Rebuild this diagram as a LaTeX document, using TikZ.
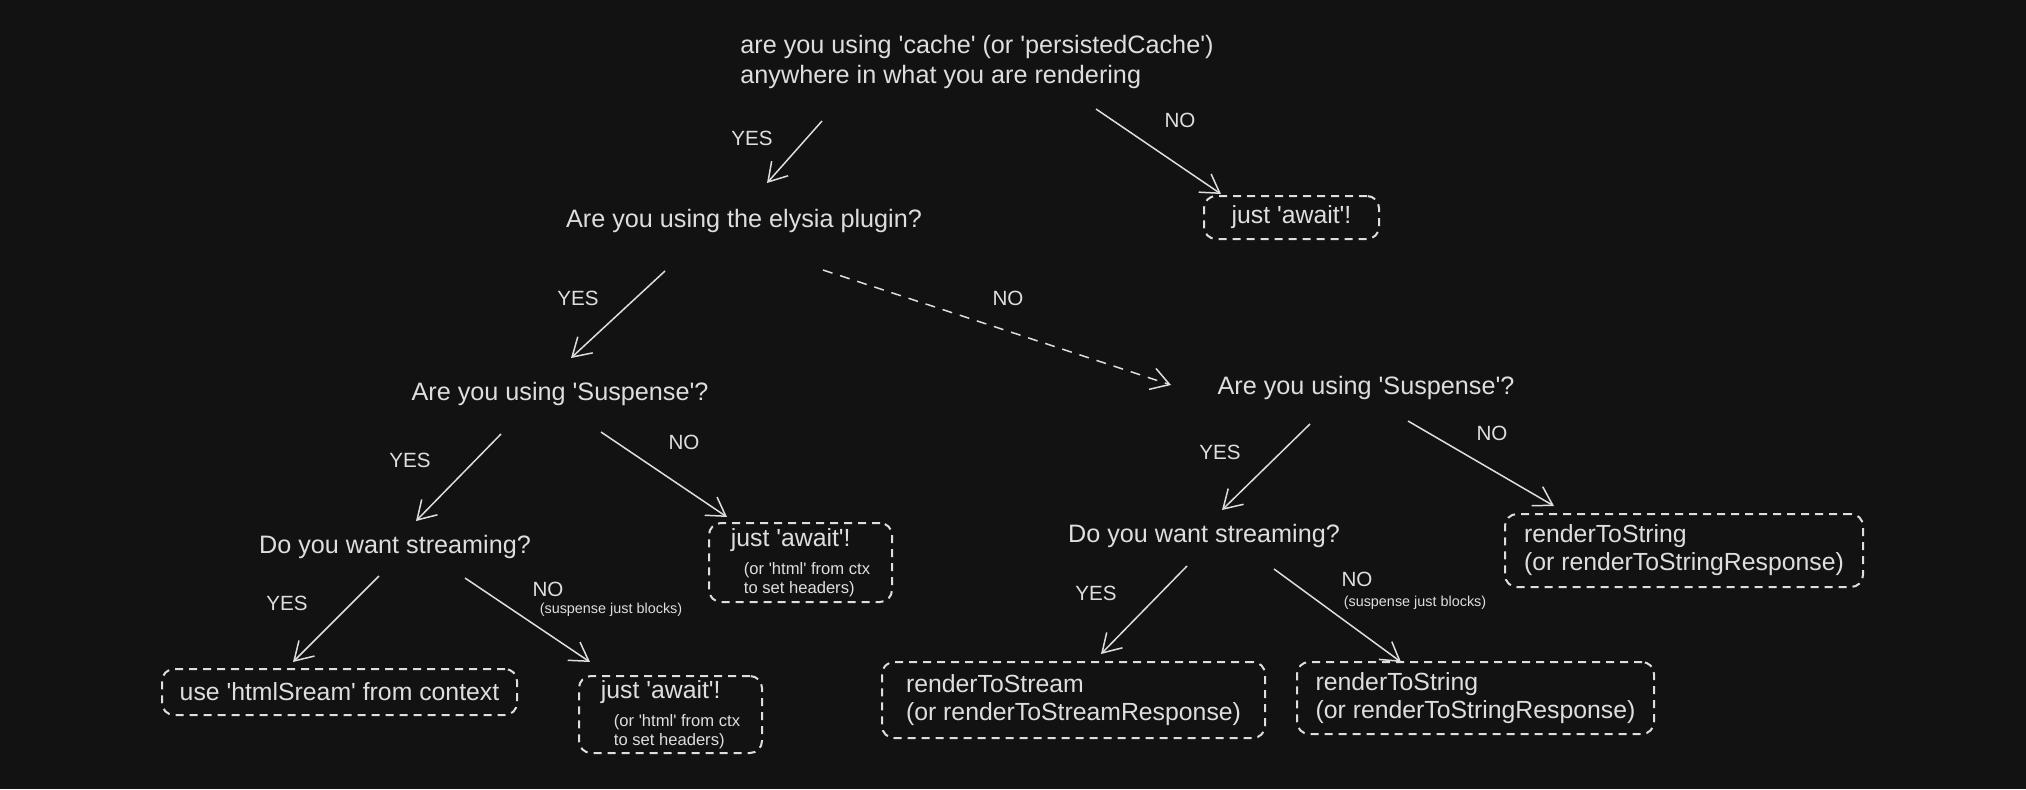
\documentclass[tikz,border=0pt]{standalone}
\usepackage{fontspec}
\newfontfamily\hand{Liberation Sans}
\usetikzlibrary{arrows.meta,calc}
\definecolor{bg}{HTML}{121212}
\definecolor{fg}{HTML}{DEDEDE}
\begin{document}
\begin{tikzpicture}[x=0.5pt,y=-0.5pt,
  every node/.style={text=fg, inner sep=0pt},
  q/.style={font=\hand\fontsize{12.6}{15}\selectfont, align=left},
  lbl/.style={font=\hand\fontsize{10.3}{12}\selectfont},
  tinytxt/.style={font=\hand\fontsize{7.2}{9}\selectfont},
  box/.style={draw=fg, line width=1pt, dash pattern=on 4pt off 3pt, rounded corners=6pt,
    font=\hand\fontsize{12.4}{14}\selectfont, align=left},
  arr/.style={draw=fg, line width=0.75pt, -{Straight Barb[length=9pt,width=11pt]}},
]
\fill[bg] (0,0) rectangle (2026,789);

% question nodes
\node[q] (q1) at (977,62) {are you using 'cache' (or 'persistedCache')\\anywhere in what you are rendering};
\node[q] (e1) at (744,221) {Are you using the elysia plugin?};
\node[q] (s1) at (560,394) {Are you using 'Suspense'?};
\node[q] (s2) at (1366,388) {Are you using 'Suspense'?};
\node[q] (d1) at (395,547) {Do you want streaming?};
\node[q] (d2) at (1204,536) {Do you want streaming?};

% result boxes
\node[box, minimum width=87.5pt, minimum height=21.5pt] (a1) at (1291.5,217.5) {just 'await'!};
\node[box, minimum width=91.5pt, minimum height=39.5pt] (a2) at (800.5,562.5)
  {just 'await'!\\\fontsize{8.3}{9.5}\selectfont\hspace*{6.5pt}(or 'html' from ctx\\[-4.5pt]\fontsize{8.3}{9.5}\selectfont\hspace*{6.5pt}to set headers)};
\node[box, minimum width=177.5pt, minimum height=23pt] (b1) at (339.5,692) {use 'htmlSream' from context};
\node[box, minimum width=91.5pt, minimum height=38.5pt] (a3) at (670.5,714.5)
  {just 'await'!\\\fontsize{8.3}{9.5}\selectfont\hspace*{6.5pt}(or 'html' from ctx\\[-4.5pt]\fontsize{8.3}{9.5}\selectfont\hspace*{6.5pt}to set headers)};
\node[box, minimum width=179pt, minimum height=36.5pt] (r1) at (1684,550.5) {renderToString\\(or renderToStringResponse)};
\node[box, minimum width=191.5pt, minimum height=38pt] (r2) at (1073.5,700) {renderToStream\\(or renderToStreamResponse)};
\node[box, minimum width=178.5pt, minimum height=36pt] (r3) at (1475.5,698) {renderToString\\(or renderToStringResponse)};

% labels
\node[lbl] (y1) at (752,138) {YES};
\node[lbl] (n1) at (1180,120) {NO};
\node[lbl] (y2) at (578,298) {YES};
\node[lbl] (n2) at (1008,298) {NO};
\node[lbl] (y3) at (410,460) {YES};
\node[lbl] (n3) at (684,442) {NO};
\node[lbl] (y4) at (287,603) {YES};
\node[lbl] (n4) at (548,589) {NO};
\node[tinytxt] (t4) at (611,610) {(suspense just blocks)};
\node[lbl] (y5) at (1220,452) {YES};
\node[lbl] (n5) at (1492,433) {NO};
\node[lbl] (y6) at (1096,593) {YES};
\node[lbl] (n6) at (1357,579) {NO};
\node[tinytxt] (t6) at (1415,603) {(suspense just blocks)};

% connectors
\draw[arr] ($(q1.center)+(-155,59)$) -- ($(e1.center)+(23,-38)$);
\draw[arr] ($(q1.center)+(119,47)$) -- ($(a1.center)+(-70.5,-23.5)$);
\draw[arr] ($(e1.center)+(-79,50)$) -- ($(s1.center)+(11,-36)$);
\draw[arr, dash pattern=on 5pt off 4pt] ($(e1.center)+(79,49)$) -- ($(s2.center)+(-195,-3)$);
\draw[arr] ($(s1.center)+(-59,40)$) -- ($(d1.center)+(21,-26)$);
\draw[arr] ($(s1.center)+(41,38)$) -- ($(a2.center)+(-73.5,-45.5)$);
\draw[arr] ($(d1.center)+(-16,29)$) -- ($(b1.center)+(-46.5,-30)$);
\draw[arr] ($(d1.center)+(70,31)$) -- ($(a3.center)+(-80.5,-52.5)$);
\draw[arr] ($(s2.center)+(-56,36)$) -- ($(d2.center)+(18,-26)$);
\draw[arr] ($(s2.center)+(42,33)$) -- ($(r1.center)+(-130,-44.5)$);
\draw[arr] ($(d2.center)+(-17,30)$) -- ($(r2.center)+(27.5,-46)$);
\draw[arr] ($(d2.center)+(70,33)$) -- ($(r3.center)+(-74.5,-36)$);
\end{tikzpicture}
\end{document}
